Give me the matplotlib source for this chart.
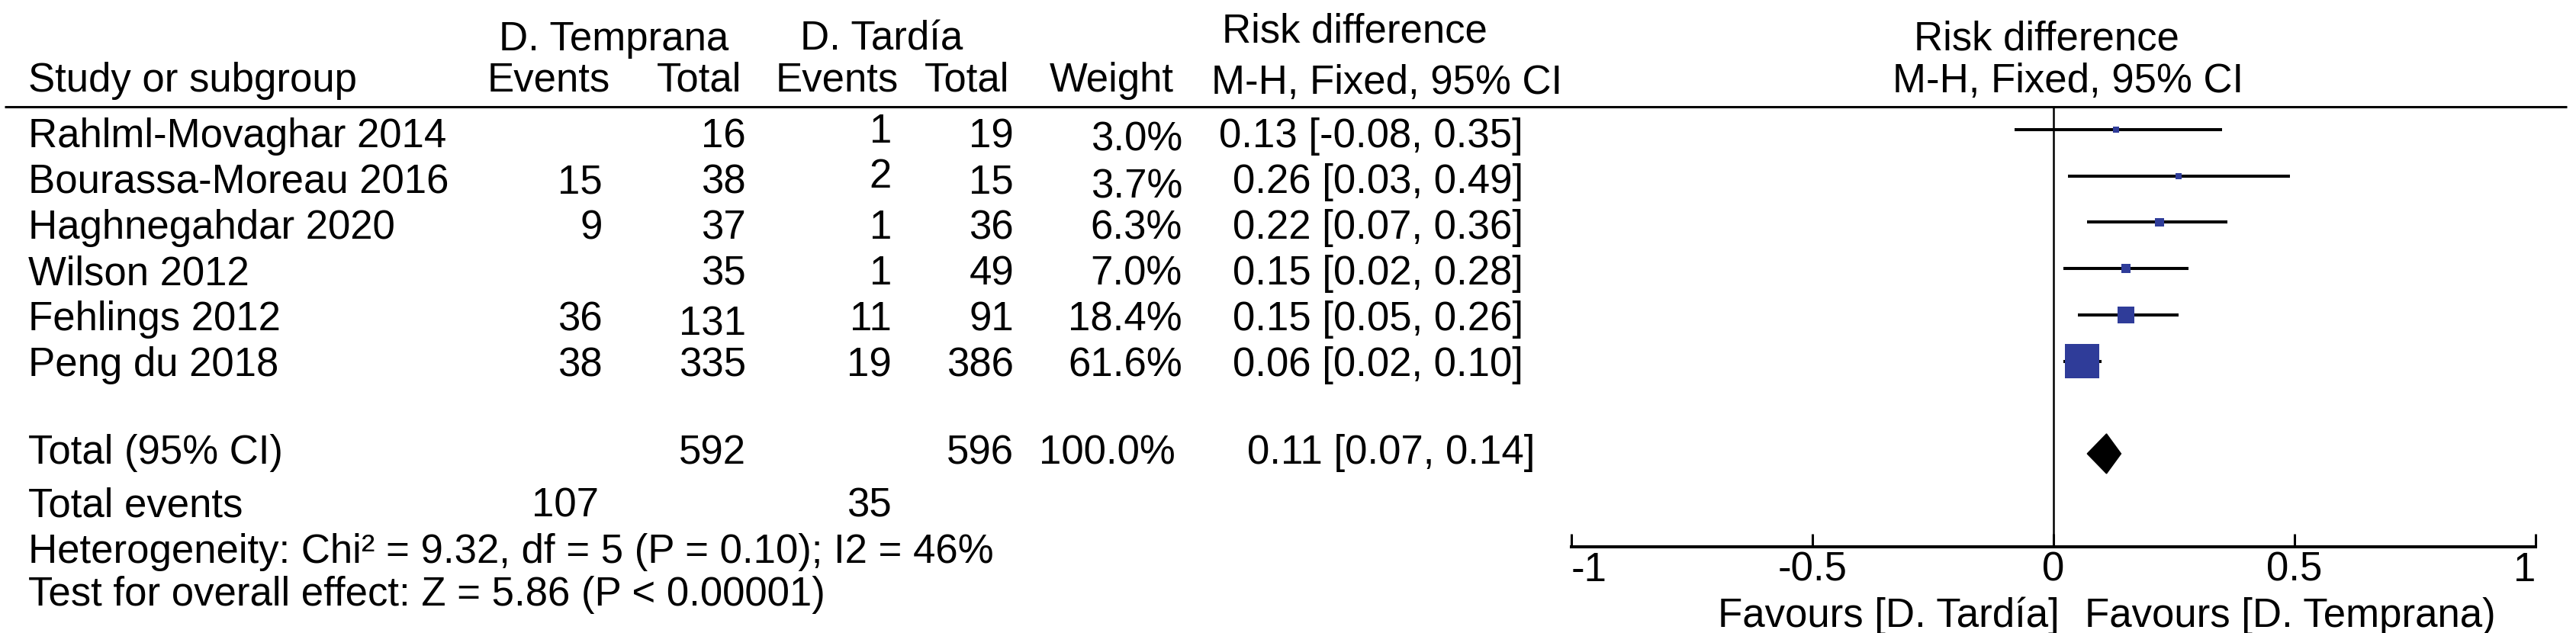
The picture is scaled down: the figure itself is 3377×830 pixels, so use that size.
import matplotlib
matplotlib.use("Agg")
import matplotlib.pyplot as plt
import numpy as np

# ---------------- data ----------------
studies = ["Rahlml-Movaghar 2014", "Bourassa-Moreau 2016", "Haghnegahdar 2020",
           "Wilson 2012", "Fehlings 2012", "Peng du 2018"]
early_events = [None, 15, 9, None, 36, 38]
early_total = [16, 38, 37, 35, 131, 335]
late_events = [1, 2, 1, 1, 11, 19]
late_total = [19, 15, 36, 49, 91, 386]
weights = [3.0, 3.7, 6.3, 7.0, 18.4, 61.6]
rd = [0.13, 0.26, 0.22, 0.15, 0.15, 0.06]
rd_lo = [-0.08, 0.03, 0.07, 0.02, 0.05, 0.02]
rd_hi = [0.35, 0.49, 0.36, 0.28, 0.26, 0.10]

total_early_n = 592
total_late_n = 596
total_weight = 100.0
total_rd, total_lo, total_hi = 0.11, 0.07, 0.14
total_early_events = 107
total_late_events = 35
heterogeneity = "Heterogeneity: Chi\u00b2 = 9.32, df = 5 (P = 0.10); I2 = 46%"
overall = "Test for overall effect: Z = 5.86 (P < 0.00001)"

tick_values = [-1, -0.5, 0, 0.5, 1]
tick_labels = ["-1", "-0.5", "0", "0.5", "1"]
favours_left = "Favours [D. Tard\u00eda]"
favours_right = "Favours [D. Temprana)"

# ---------------- style ----------------
FAM = ["Liberation Sans", "DejaVu Sans"]
FS = 38
BLUE = "#2F3C99"
W, H = 3377, 830

fig = plt.figure(figsize=(W / 100, H / 100), dpi=100)
fig.patch.set_facecolor("white")

tab = fig.add_axes([0, 0, 1, 1])
tab.set_xlim(0, W)
tab.set_ylim(H, 0)
tab.axis("off")


def T(x, y, s, ha="left"):
    tab.text(x, y, s, ha=ha, va="baseline", fontsize=FS, family=FAM, color="black")


# headers
T(805, 66, "D. Temprana", "center")
T(1156, 66, "D. Tard\u00eda", "center")
T(1776, 56, "Risk difference", "center")
T(37, 120, "Study or subgroup", "left")
T(719, 120, "Events", "center")
T(972, 120, "Total", "right")
T(1097, 120, "Events", "center")
T(1323, 120, "Total", "right")
T(1539, 120, "Weight", "right")
T(1818, 123, "M-H, Fixed, 95% CI", "center")
T(2683, 65, "Risk difference", "center")
T(2711, 121, "M-H, Fixed, 95% CI", "center")

# header rule
tab.plot([6, 3365], [140, 140], color="black", lw=2.2, solid_capstyle="butt")

# column anchors (pixels)
X_STUDY, X_EV1, X_TOT1, X_EV2, X_TOT2, X_W, X_CI = 37, 790, 978, 1169, 1329, 1550, 1997
# small per-cell vertical nudges seen in the original layout (pixels)
nudge_ev2 = [-6, -7, 0, 0, 0, 0]
nudge_w = [4, 6, 0, 0, 0, 0]
nudge_tot1 = [0, 0, 0, 0, 6, 0]

for i, name in enumerate(studies):
    yb = 193 + 60.0 * i
    T(X_STUDY, yb, name, "left")
    if early_events[i] is not None:
        T(X_EV1, yb, str(early_events[i]), "right")
    T(X_TOT1, yb + nudge_tot1[i], str(early_total[i]), "right")
    T(X_EV2, yb + nudge_ev2[i], str(late_events[i]), "right")
    T(X_TOT2, yb, str(late_total[i]), "right")
    T(X_W, yb + nudge_w[i], f"{weights[i]:.1f}%", "right")
    T(X_CI, yb, f"{rd[i]:.2f} [{rd_lo[i]:.2f}, {rd_hi[i]:.2f}]", "right")

# total row
T(X_STUDY, 608, "Total (95% CI)", "left")
T(X_TOT1, 608, str(total_early_n), "right")
T(X_TOT2, 608, str(total_late_n), "right")
T(1541, 608, f"{total_weight:.1f}%", "right")
T(2012, 608, f"{total_rd:.2f} [{total_lo:.2f}, {total_hi:.2f}]", "right")

T(X_STUDY, 677, "Total events", "left")
T(785, 677, str(total_early_events), "right")
T(X_EV2, 677, str(total_late_events), "right")
T(X_STUDY, 738, heterogeneity, "left")
T(X_STUDY, 794, overall, "left")

# ---------------- forest axes ----------------
x_left_px, x_right_px = 2060, 3324
y_top_px, y_axis_px = 140, 717
row0_px, row_step = 170.0, 60.7
ax = fig.add_axes([x_left_px / W, (H - y_axis_px) / H,
                   (x_right_px - x_left_px) / W, (y_axis_px - y_top_px) / H])
ax.set_facecolor("none")
ax.set_xlim(-1, 1)
ax.set_ylim((y_axis_px - row0_px) / row_step, (y_top_px - row0_px) / row_step)

rows = np.arange(len(studies))
total_row = 7

ax.axvline(0, color="black", lw=1.8, zorder=1)
ax.hlines(rows, rd_lo, rd_hi, color="black", lw=2.9, zorder=2)
w = np.array(weights)
side_px = 45 * (w / w.max()) ** 0.6
ax.scatter(rd, rows, marker="s", s=(side_px * 0.72) ** 2, color=BLUE,
           linewidths=0, zorder=3)
half_h = 26 / row_step
ax.fill([total_lo, total_rd, total_hi, total_rd],
        [total_row, total_row - half_h, total_row, total_row + half_h],
        color="black", zorder=3)

for s in ["left", "right", "top"]:
    ax.spines[s].set_visible(False)
ax.spines["bottom"].set_linewidth(2.9)
ax.set_yticks([])
ax.set_xticks(tick_values)
ax.set_xticklabels(tick_labels, fontsize=FS, family=FAM)
ax.tick_params(axis="x", direction="in", length=12.2, width=2.2, pad=4)
labs = ax.get_xticklabels()
labs[0].set_ha("left")
labs[-1].set_ha("right")

T(2700, 822, favours_left, "right")
T(2733, 822, favours_right, "left")

fig.savefig("out.png", dpi=100, facecolor="white")
